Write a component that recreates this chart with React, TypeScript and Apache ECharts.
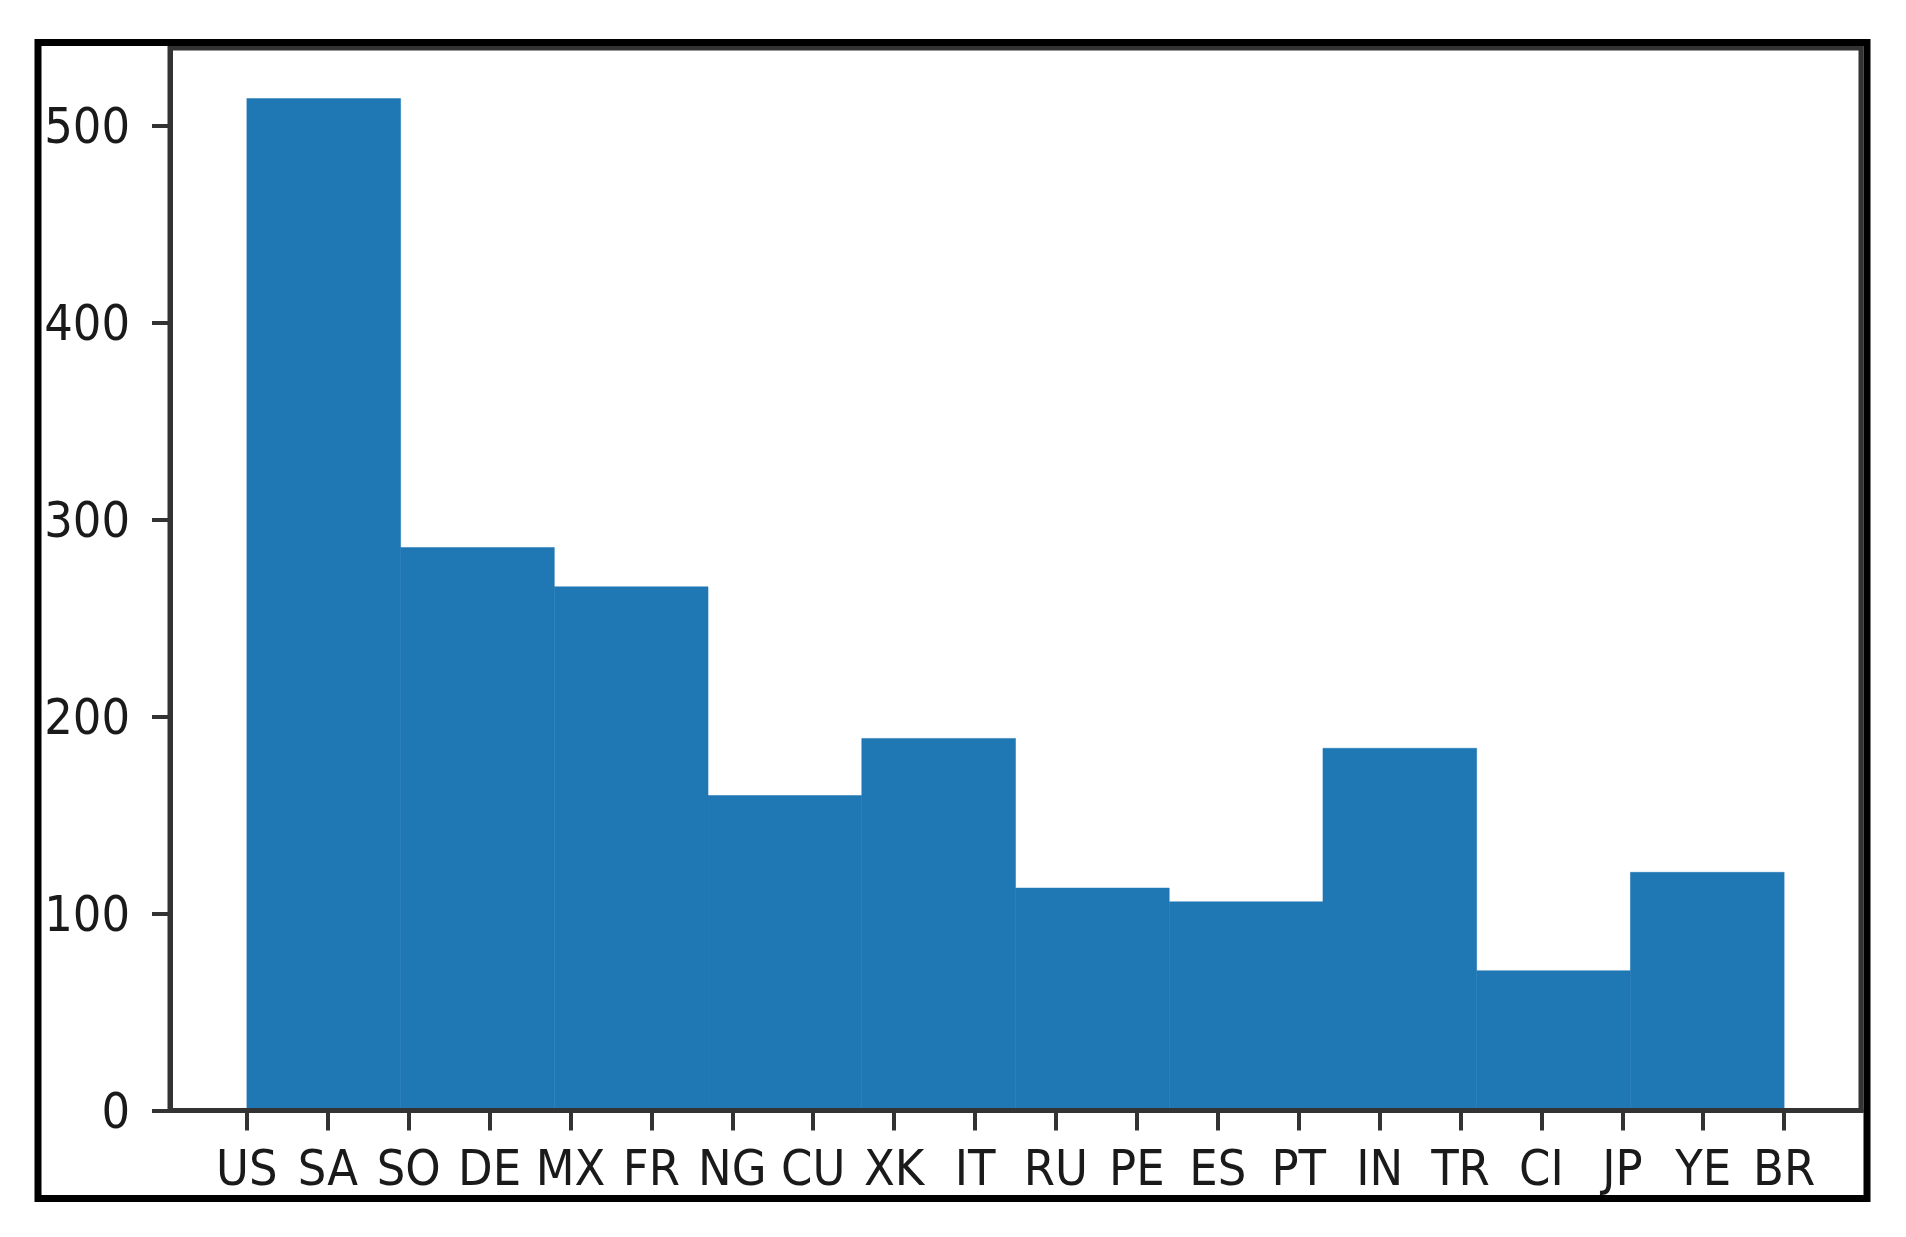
import React, { useEffect, useRef } from "react";
import * as echarts from "echarts";

// Histogram of country codes (10 bins over 20 categories)
const categories = ["US", "SA", "SO", "DE", "MX", "FR", "NG", "CU", "XK", "IT", "RU", "PE", "ES", "PT", "IN", "TR", "CI", "JP", "YE", "BR"];
const counts = [514, 286, 266, 160, 189, 113, 106, 184, 71, 121];
const yTicks = [0, 100, 200, 300, 400, 500];

const FONT = '"DejaVu Sans Condensed", "DejaVu Sans", sans-serif';

export default function App() {
  const ref = useRef<HTMLDivElement>(null);

  useEffect(() => {
    if (!ref.current) return;
    const chart = echarts.init(ref.current, undefined, { renderer: "svg" });

    const lo = 0;
    const hi = categories.length - 1;
    const binW = (hi - lo) / counts.length;
    const histData = counts.map((c, i) => [lo + i * binW, lo + (i + 1) * binW, c]);
    const span = hi - lo;
    const xMin = lo - 0.05 * span;
    const xMax = hi + 0.05 * span;
    const yMax = Math.max(...counts) * 1.05;
    const catIdx = categories.map((_, i) => i);

    chart.setOption({
      animation: false,
      backgroundColor: "#ffffff",
      grid: {
        left: 170,
        right: 45,
        top: 48,
        bottom: 126.5,
        show: true,
        borderColor: "#333333",
        borderWidth: 5,
        backgroundColor: "transparent",
      },
      xAxis: {
        type: "value",
        min: xMin,
        max: xMax,
        z: 5,
        splitLine: { show: false },
        axisLine: { show: true, onZero: false, lineStyle: { color: "#333333", width: 5 } },
        axisTick: {
          show: true,
          length: 20,
          customValues: catIdx,
          lineStyle: { color: "#333333", width: 4 },
        },
        axisLabel: {
          customValues: catIdx,
          margin: 32,
          fontSize: 50,
          fontFamily: FONT,
          color: "#1a1a1a",
          formatter: (v: number) => {
            const i = Math.round(v);
            return Math.abs(v - i) < 1e-6 && categories[i] ? categories[i] : "";
          },
        },
      },
      yAxis: {
        type: "value",
        min: 0,
        max: yMax,
        z: 5,
        splitLine: { show: false },
        axisLine: { show: true, onZero: false, lineStyle: { color: "#333333", width: 5 } },
        axisTick: {
          show: true,
          length: 18,
          customValues: yTicks,
          lineStyle: { color: "#333333", width: 4 },
        },
        axisLabel: {
          customValues: yTicks,
          margin: 40,
          fontSize: 50,
          fontFamily: FONT,
          color: "#1a1a1a",
          formatter: (v: number) => (yTicks.includes(v) ? String(v) : ""),
        },
      },
      series: [
        {
          type: "custom",
          data: histData,
          encode: { x: [0, 1], y: 2 },
          renderItem: (params: any, api: any) => {
            const p0 = api.coord([api.value(0), api.value(2)]);
            const p1 = api.coord([api.value(1), 0]);
            return {
              type: "rect",
              shape: { x: p0[0], y: p0[1], width: p1[0] - p0[0], height: p1[1] - p0[1] },
              style: { fill: "#1f77b4", stroke: "#1f77b4", lineWidth: 0.5 },
            };
          },
          z: 2,
        },
      ],
      graphic: [
        {
          type: "rect",
          z: 100,
          shape: { x: 38, y: 42.5, width: 1829, height: 1156 },
          style: { fill: "none", stroke: "#000000", lineWidth: 7 },
        },
      ],
    });

    return () => chart.dispose();
  }, []);

  return (
    <div
      ref={ref}
      style={{ position: "fixed", left: 0, top: 0, width: 1906, height: 1237, background: "#ffffff" }}
    />
  );
}
